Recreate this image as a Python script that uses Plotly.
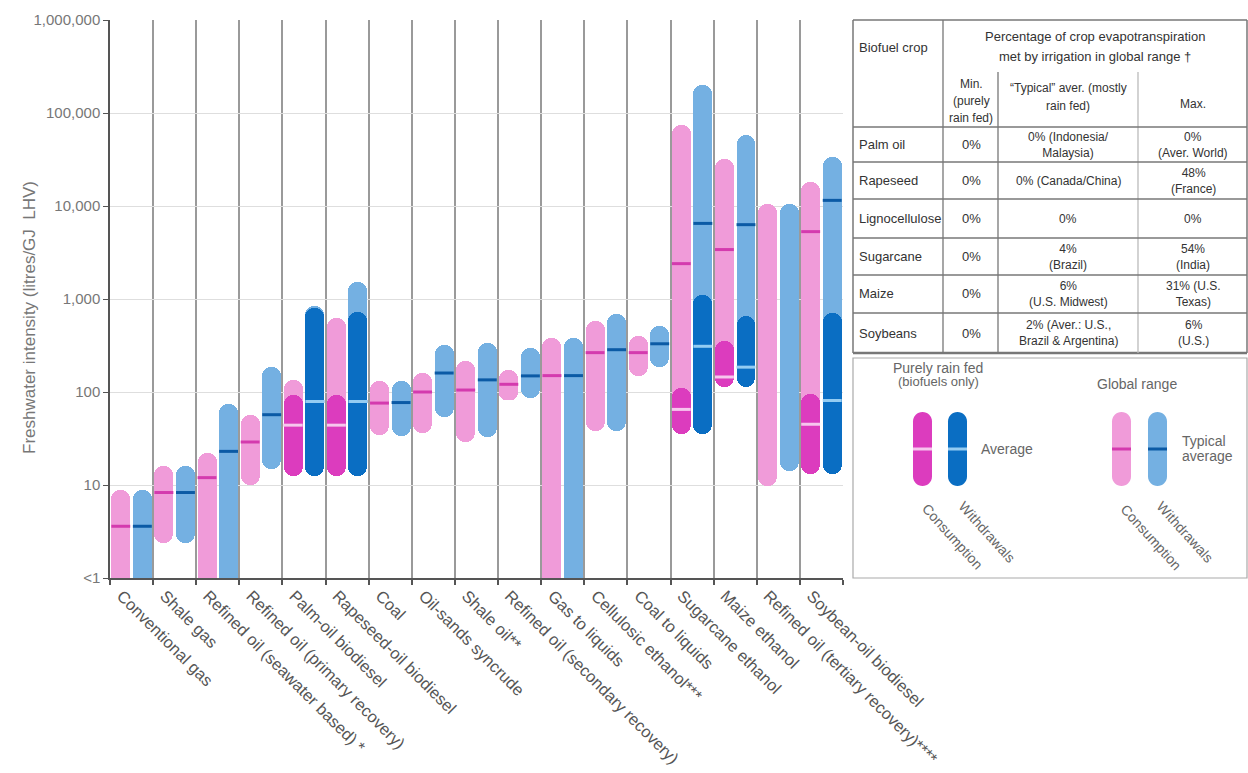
import math
import plotly.graph_objects as go

W, H = 1248, 773

categories = ["Conventional gas", "Shale gas", "Refined oil (seawater based) *",
              "Refined oil (primary recovery)", "Palm-oil biodiesel", "Rapeseed-oil biodiesel",
              "Coal", "Oil-sands syncrude", "Shale oil**", "Refined oil (secondary recovery)",
              "Gas to liquids", "Cellulosic ethanol***", "Coal to liquids", "Sugarcane ethanol",
              "Maize ethanol", "Refined oil (tertiary recovery)****", "Soybean-oil biodiesel"]

# Global range - consumption (None low = below 1)
cons_low = [None, 2.4, None, 10, 12.5, 12.5, 34.5, 36, 29, 83, None, 38, 150, 35.5, 112, 9.8, 13]
cons_high = [8.8, 16, 22, 56, 134, 625, 132, 160, 218, 172, 380, 575, 400, 74000, 32000, 10500, 18000]
cons_avg = [3.6, 8.3, 12, 29, 44, 44, 76, 100, 105, 121, 150, 265, 265, 2400, 3400, None, 5300]
# Global range - withdrawals
wd_low = [None, 2.4, None, 15, 12.5, 12.5, 34, 54, 33, 87, None, 38, 187, 35.5, 112, 14, 13]
wd_high = [8.8, 16, 74, 185, 850, 1540, 132, 318, 340, 300, 380, 690, 515, 200000, 58000, 10500, 34000]
wd_avg = [3.6, 8.3, 23, 57, 79, 79, 77, 160, 135, 149, 150, 285, 330, 6500, 6300, None, 11500]
# Purely rain fed (biofuels only)
rf_cons_low = [None, None, None, None, 12.5, 12.5, None, None, None, None, None, None, None, 35.5, 112, None, 13]
rf_cons_high = [None, None, None, None, 93, 93, None, None, None, None, None, None, None, 110, 355, None, 96]
rf_cons_avg = [None, None, None, None, 44, 44, None, None, None, None, None, None, None, 65, 145, None, 45]
rf_wd_low = [None, None, None, None, 12.5, 12.5, None, None, None, None, None, None, None, 35.5, 112, None, 13]
rf_wd_high = [None, None, None, None, 800, 730, None, None, None, None, None, None, None, 1100, 660, None, 700]
rf_wd_avg = [None, None, None, None, 79, 79, None, None, None, None, None, None, None, 310, 185, None, 81]

y_tickvals = [1, 10, 100, 1000, 10000, 100000, 1000000]
y_ticktext = ["<1", "10", "100", "1,000", "10,000", "100,000", "1,000,000"]

# Table
table_crops = ["Palm oil", "Rapeseed", "Lignocellulose", "Sugarcane", "Maize", "Soybeans"]
table_min = ["0%", "0%", "0%", "0%", "0%", "0%"]
table_typical = ["0% (Indonesia/<br>Malaysia)", "0% (Canada/China)", "0%", "4%<br>(Brazil)",
                 "6%<br>(U.S. Midwest)", "2% (Aver.: U.S.,<br>Brazil & Argentina)"]
table_max = ["0%<br>(Aver. World)", "48%<br>(France)", "0%", "54%<br>(India)",
             "31% (U.S.<br>Texas)", "6%<br>(U.S.)"]

C_CONS = "#F09BD9"
C_WD = "#74B0E2"
C_RF_CONS = "#DC3CBE"
C_RF_WD = "#0A6EC3"
C_CONS_AVG = "#D43AAE"
C_WD_AVG = "#0B5AA5"
C_RF_CONS_AVG = "#F7C6EE"
C_RF_WD_AVG = "#94CCF2"

FONT = "Liberation Sans, Arial, sans-serif"
FLOOR = 0.1  # drawing stand-in for "<1"
OFF = 0.25
BW = 0.44

fig = go.Figure()


def add_capsules(offset, lows, highs, color):
    xs, base_full, len_full, base_half, len_half = [], [], [], [], []
    for i, (lo, hi) in enumerate(zip(lows, highs)):
        if hi is None:
            continue
        lo = FLOOR if lo is None else lo
        m = math.sqrt(lo * hi)
        xs.append(i + offset)
        base_full.append(lo)
        len_full.append(hi - lo)
        base_half.append(m)
        len_half.append(lo - m)
    common = dict(x=xs, width=BW, marker=dict(color=color, cornerradius="50%", line=dict(width=0)),
                  hoverinfo="skip", showlegend=False)
    fig.add_trace(go.Bar(y=len_full, base=base_full, **common))
    fig.add_trace(go.Bar(y=len_half, base=base_half, **common))


def add_avg(offset, avgs, color):
    xs = [i + offset for i, a in enumerate(avgs) if a is not None]
    ys = [a for a in avgs if a is not None]
    fig.add_trace(go.Scatter(x=xs, y=ys, mode="markers", hoverinfo="skip", showlegend=False,
                             marker=dict(symbol="line-ew", size=13.5, color=color,
                                         line=dict(width=3, color=color))))


add_capsules(-OFF, cons_low, cons_high, C_CONS)
add_capsules(OFF, wd_low, wd_high, C_WD)
add_avg(-OFF, cons_avg, C_CONS_AVG)
add_avg(OFF, wd_avg, C_WD_AVG)
add_capsules(-OFF, rf_cons_low, rf_cons_high, C_RF_CONS)
add_capsules(OFF, rf_wd_low, rf_wd_high, C_RF_WD)
add_avg(-OFF, rf_cons_avg, C_RF_CONS_AVG)
add_avg(OFF, rf_wd_avg, C_RF_WD_AVG)


def px(x):
    return x / W


def py(y):
    return 1 - y / H


shapes = []
annotations = []


def line(x0, y0, x1, y1, color="#777", width=1.2):
    shapes.append(dict(type="line", xref="paper", yref="paper", x0=px(x0), y0=py(y0),
                       x1=px(x1), y1=py(y1), line=dict(color=color, width=width)))


def text(x, y, s, size=13, color="#333", xanchor="center", angle=0):
    annotations.append(dict(xref="paper", yref="paper", x=px(x), y=py(y), text=s, showarrow=False,
                            xanchor=xanchor, yanchor="middle", textangle=angle,
                            font=dict(family=FONT, size=size, color=color)))


# y axis title
text(30, 318, "Freshwater intensity (litres/GJ  LHV)", size=17, color="#777", angle=-90)

# ---- table ----
TL, TR = 853, 1247
row_lines = [127, 162, 199, 238, 275, 313]
line(TL, 20, TR, 20, "#777", 1.5)
line(TL, 20, TL, 353, "#777", 1.5)
line(TR, 20, TR, 353, "#777", 1.5)
line(TL, 353, TR, 353, "#777", 2.5)
line(943, 20, 943, 353, "#777", 1.3)
line(998, 72, 998, 353, "#777", 1.3)
line(1138, 72, 1138, 353, "#bbb", 1.3)
for ry in row_lines:
    line(TL, ry, TR, ry, "#777", 1.3)

text(857, 47, "Biofuel crop", xanchor="left")
text(1095, 37, "Percentage of crop evapotranspiration")
text(1095, 57, "met by irrigation in global range †")
text(971, 84, "Min.", size=12)
text(971, 101, "(purely", size=12)
text(971, 118, "rain fed)", size=12)
text(1068, 88, "“Typical” aver. (mostly", size=12)
text(1068, 106, "rain fed)", size=12)
text(1193, 104, "Max.", size=12)

row_bounds = row_lines + [353]
for k, crop in enumerate(table_crops):
    cy = (row_bounds[k] + row_bounds[k + 1]) / 2
    text(857, cy, crop, xanchor="left")
    text(971, cy, table_min[k])
    text(1068, cy, table_typical[k], size=12)
    text(1193, cy, table_max[k], size=12)

# ---- legend box ----
shapes.append(dict(type="rect", xref="paper", yref="paper", x0=px(853), y0=py(578), x1=px(1247),
                   y1=py(358), line=dict(color="#aaa", width=1.2)))


def capsule_path(x0, x1, yt, yb):
    r = (x1 - x0) / 2
    cx = (x0 + x1) / 2
    k = 0.5523 * r
    pts = [
        ("M", [(x0, yt + r)]),
        ("C", [(x0, yt + r - k), (cx - k, yt), (cx, yt)]),
        ("C", [(cx + k, yt), (x1, yt + r - k), (x1, yt + r)]),
        ("L", [(x1, yb - r)]),
        ("C", [(x1, yb - r + k), (cx + k, yb), (cx, yb)]),
        ("C", [(cx - k, yb), (x0, yb - r + k), (x0, yb - r)]),
    ]
    s = ""
    for cmd, ps in pts:
        s += cmd + " " + " ".join(f"{px(a):.5f},{py(b):.5f}" for a, b in ps) + " "
    return s + "Z"


legend_keys = [(913, 932, C_RF_CONS, C_RF_CONS_AVG), (948, 967, C_RF_WD, C_RF_WD_AVG),
               (1112, 1131, C_CONS, C_CONS_AVG), (1148, 1167, C_WD, C_WD_AVG)]
for x0, x1, fill, avgc in legend_keys:
    shapes.append(dict(type="path", xref="paper", yref="paper", path=capsule_path(x0, x1, 412, 486),
                       fillcolor=fill, line=dict(width=0)))
    line(x0, 449, x1, 449, avgc, 3)

LG = "#666"
text(938, 368, "Purely rain fed", size=14, color=LG)
text(938, 381, "(biofuels only)", size=13, color=LG)
text(979, 449, "Average", size=14, color=LG, xanchor="left")
text(1137, 384, "Global range", size=14, color=LG)
text(1180, 441, "Typical", size=14, color=LG, xanchor="left")
text(1180, 456, "average", size=14, color=LG, xanchor="left")
text(953, 537, "Consumption", size=14, color=LG, angle=48)
text(987, 532, "Withdrawals", size=14, color=LG, angle=48)
text(1151, 537, "Consumption", size=14, color=LG, angle=48)
text(1185, 532, "Withdrawals", size=14, color=LG, angle=48)

fig.update_layout(
    width=W, height=H, margin=dict(l=0, r=0, t=0, b=0),
    paper_bgcolor="white", plot_bgcolor="white",
    barmode="overlay", bargap=0,
    font=dict(family=FONT),
    shapes=shapes, annotations=annotations,
    xaxis=dict(domain=[px(110), px(843)], range=[-0.5, 16.5],
               tickvals=[i - 0.23 for i in range(len(categories))], ticktext=categories,
               tickangle=45, ticks="", showgrid=False, zeroline=False,
               showline=True, linecolor="#555", linewidth=1.5,
               tickfont=dict(size=16.5, color="#555", family=FONT), automargin=False,
               minor=dict(tick0=-0.5, dtick=1, showgrid=True, gridcolor="#9a9a9a", gridwidth=1.5,
                          ticks="outside", ticklen=5, tickcolor="#555", tickwidth=1.5)),
    yaxis=dict(domain=[py(578), py(20)], type="log", range=[0, 6],
               tickvals=y_tickvals, ticktext=y_ticktext,
               ticks="outside", ticklen=5, tickcolor="#555",
               showline=True, linecolor="#555", linewidth=1.5,
               showgrid=True, gridcolor="#dedede", gridwidth=1, zeroline=False,
               tickfont=dict(size=15, color="#777", family=FONT), automargin=False),
)

fig.write_html("out.html", config={"displayModeBar": False},
               post_script="document.body.style.margin='0';")
